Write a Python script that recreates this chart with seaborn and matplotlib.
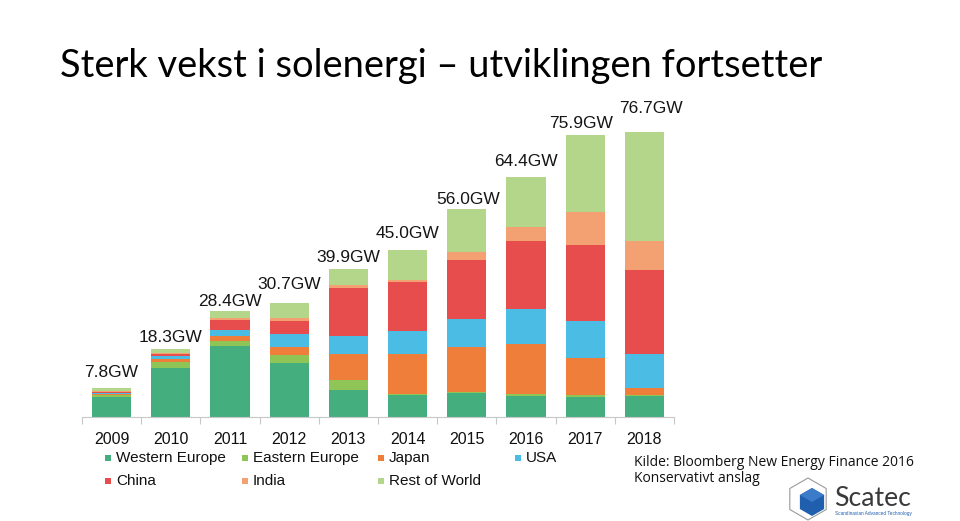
import numpy as np
import pandas as pd
import matplotlib
matplotlib.use("Agg")
import matplotlib.pyplot as plt
from matplotlib.patches import Rectangle, Polygon
import seaborn as sns

# ---------------- data ----------------
years = ["2009", "2010", "2011", "2012", "2013", "2014", "2015", "2016", "2017", "2018"]
series_names = ["Western Europe", "Eastern Europe", "Japan", "USA", "China", "India", "Rest of World"]
western_europe = [5.5, 13.2, 19.2, 14.4, 7.3, 5.9, 6.5, 5.6, 5.4, 5.6]
eastern_europe = [0.3, 1.6, 1.2, 2.3, 2.7, 0.4, 0.3, 0.5, 0.4, 0.4]
japan = [0.4, 0.9, 1.3, 2.1, 7.0, 10.6, 12.0, 13.4, 10.1, 1.8]
usa = [0.3, 0.8, 1.8, 3.4, 4.8, 6.3, 7.6, 9.4, 10.0, 9.1]
china = [0.3, 0.5, 2.7, 3.5, 12.9, 13.0, 15.9, 18.4, 20.4, 22.7]
india = [0.2, 0.2, 0.3, 1.0, 0.9, 0.7, 2.1, 3.7, 8.9, 7.8]
rest_of_world = [0.8, 1.1, 1.9, 4.0, 4.3, 8.1, 11.6, 13.4, 20.7, 29.3]
totals = [7.8, 18.3, 28.4, 30.7, 39.9, 45.0, 56.0, 64.4, 75.9, 76.7]
total_labels = ["7.8GW", "18.3GW", "28.4GW", "30.7GW", "39.9GW", "45.0GW", "56.0GW", "64.4GW", "75.9GW", "76.7GW"]

title = "Sterk vekst i solenergi \u2013 utviklingen fortsetter"
source_lines = ["Kilde: Bloomberg New Energy Finance 2016", "Konservativt anslag"]

# ---------------- style ----------------
colors = ["#45AE7F", "#8EC556", "#EF7E3B", "#4BBDE5", "#E84D4D", "#F3A173", "#B3D68A"]
label_dy_px = [15, 11, 10, 18, 11, 16, 9, 16, 11, 23]
label_dx_px = [0, 0, 0, 0, 0, 0, 1, 0, -4, 7]

W, H = 960, 521
sns.set_theme(style="white")
plt.rcParams["font.family"] = ["Liberation Sans", "DejaVu Sans"]

fig = plt.figure(figsize=(W / 100, H / 100), dpi=100)
fig.patch.set_facecolor("white")

ax_left, ax_right, ax_base = 82, 674, 417
ymax = 80
px_per_gw = 3.72
ax_h = ymax * px_per_gw
ax = fig.add_axes([ax_left / W, (H - ax_base) / H, (ax_right - ax_left) / W, ax_h / H])

stack = np.array([western_europe, eastern_europe, japan, usa, china, india, rest_of_world])
cum = np.cumsum(stack, axis=0)
df = pd.DataFrame({"year": years})
for i in range(len(series_names) - 1, -1, -1):
    df["top"] = cum[i]
    sns.barplot(data=df, x="year", y="top", color=colors[i], saturation=1,
                width=0.66, ax=ax, errorbar=None, linewidth=0, zorder=2)

ax.set_ylim(0, ymax)
ax.set_xlim(-0.5, len(years) - 0.5)
ax.set_xlabel("")
ax.set_ylabel("")
ax.set_yticks([])
for s in ["top", "right", "left"]:
    ax.spines[s].set_visible(False)
ax.spines["bottom"].set_color("#C8C8C8")
ax.spines["bottom"].set_linewidth(0.8)
ax.set_xticks(range(len(years)))
ax.set_xticklabels(years, fontsize=11.5, color="#111111")
ax.set_xticks(np.arange(-0.5, len(years)), minor=True)
ax.tick_params(axis="x", which="major", length=0, pad=11)
ax.tick_params(axis="x", which="minor", length=5, color="#C8C8C8", width=0.8, bottom=True)
ax.set_facecolor("white")

for i, (t, lab) in enumerate(zip(totals, total_labels)):
    ax.annotate(lab, xy=(i, t), xytext=(label_dx_px[i] * 0.72, label_dy_px[i] * 0.72),
                textcoords="offset points", ha="center", va="center",
                fontsize=12.5, color="#151515", annotation_clip=False)

# ---------------- title ----------------
renderer = fig.canvas.get_renderer()

def fit_width(t, target_px):
    bb = t.get_window_extent(renderer=renderer)
    t.set_fontsize(t.get_fontsize() * target_px / bb.width)

ttl = fig.text(60 / W, 1 - 66 / H, title, fontsize=24, family=["Lato", "DejaVu Sans"],
               fontweight="normal", color="#000000", ha="left", va="center")
fit_width(ttl, 763)

# ---------------- legend ----------------
leg_cols_x = [105, 242, 378, 515]
leg_rows_y = [458, 481]
legend_order = [(0, 0, 0), (1, 0, 1), (2, 0, 2), (3, 0, 3), (4, 1, 0), (5, 1, 1), (6, 1, 2)]
for si, r, c in legend_order:
    x = leg_cols_x[c]
    y = leg_rows_y[r]
    fig.add_artist(Rectangle((x / W, 1 - (y + 3) / H), 6 / W, 6 / H,
                             transform=fig.transFigure, facecolor=colors[si], edgecolor="none"))
    fig.text((x + 11) / W, 1 - y / H, series_names[si], fontsize=11, color="#111111",
             ha="left", va="center")

# ---------------- source ----------------
src1 = fig.text(634 / W, 1 - 462 / H, source_lines[0], fontsize=10,
                family=["Open Sans", "DejaVu Sans"], color="#111111", ha="left", va="center")
fit_width(src1, 279)
fig.text(634 / W, 1 - 479 / H, source_lines[1], fontsize=src1.get_fontsize(),
         family=["Open Sans", "DejaVu Sans"], color="#111111", ha="left", va="center")

# ---------------- logo ----------------
def hexagon(cx, cy, r):
    ang = np.deg2rad(np.arange(90, 450, 60))
    return [((cx + r * np.cos(a)) / W, 1 - (cy - r * np.sin(a)) / H) for a in ang]

fig.add_artist(Polygon(hexagon(808, 499, 21), closed=True, transform=fig.transFigure,
                       facecolor="none", edgecolor="#9A9A9A", linewidth=0.8))
fig.add_artist(Polygon(hexagon(812, 502, 14), closed=True, transform=fig.transFigure,
                       facecolor="#1F5FAE", edgecolor="none"))
cx, cy, r = 812, 502, 14
top_face = [(cx, cy - r), (cx + r * 0.866, cy - r / 2), (cx, cy), (cx - r * 0.866, cy - r / 2)]
fig.add_artist(Polygon([(x / W, 1 - y / H) for x, y in top_face], closed=True,
                       transform=fig.transFigure, facecolor="#3C7BC8", edgecolor="none"))
sc = fig.text(834 / W, 1 - 499 / H, "Scatec", fontsize=19, family=["Lato", "DejaVu Sans"],
              fontweight="normal", color="#3A3A3A", ha="left", va="center")
fit_width(sc, 77)
sub = fig.text(835 / W, 1 - 514 / H, "Scandinavian Advanced Technology", fontsize=3,
               color="#1F5FAE", ha="left", va="center")
fit_width(sub, 74)

fig.savefig("out.png", dpi=100, facecolor="white")
